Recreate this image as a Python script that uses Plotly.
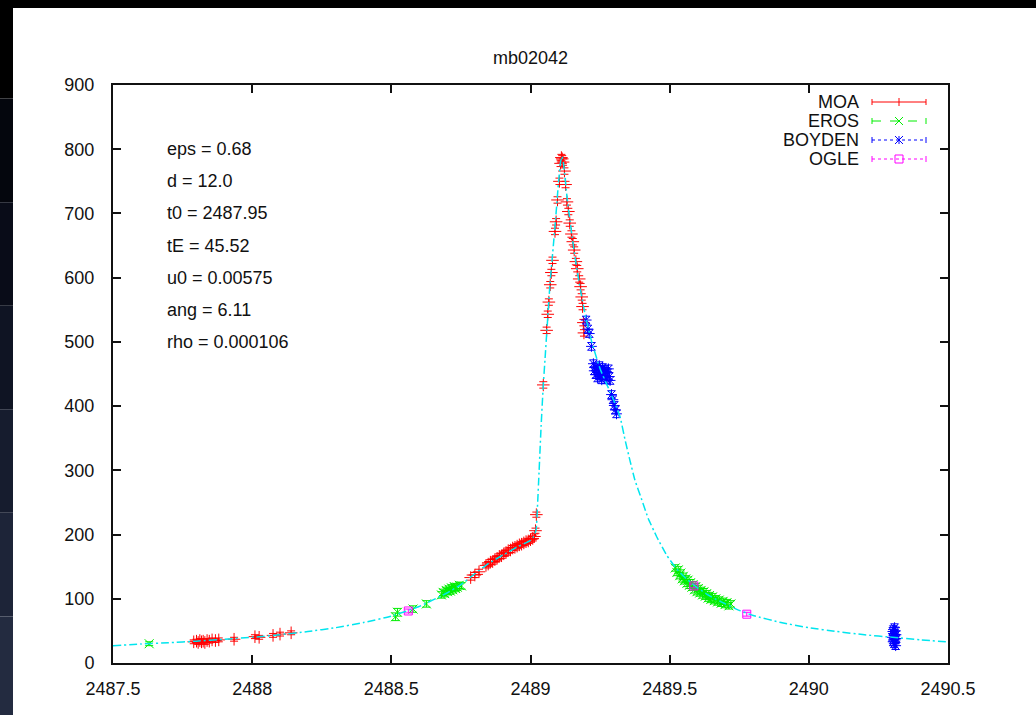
import plotly.graph_objects as go

# ---------------- data ----------------
TITLE = "mb02042"

MOA_T = [2487.790, 2487.800, 2487.806, 2487.812, 2487.818, 2487.824, 2487.830, 2487.838, 2487.846, 2487.856, 2487.868, 2487.880,
         2487.935, 2488.010, 2488.025, 2488.075, 2488.100, 2488.140,
         2488.785, 2488.800, 2488.815,
         2488.840, 2488.848, 2488.856, 2488.864, 2488.872, 2488.880, 2488.888, 2488.896, 2488.904, 2488.912, 2488.920,
         2488.928, 2488.936, 2488.944, 2488.952, 2488.960, 2488.968, 2488.976, 2488.984, 2488.992, 2489.000, 2489.008,
         2489.014, 2489.018, 2489.021,
         2489.046, 2489.058, 2489.062, 2489.066, 2489.071, 2489.075, 2489.079, 2489.088, 2489.092, 2489.097, 2489.104,
         2489.108, 2489.111, 2489.114, 2489.117,
         2489.122, 2489.126, 2489.131, 2489.136, 2489.141, 2489.147, 2489.152, 2489.157, 2489.163, 2489.168, 2489.175,
         2489.180, 2489.184, 2489.187, 2489.190, 2489.192]
MOA_F = [33, 34, 32, 35, 33, 34, 32, 35, 34, 36, 35, 36,
         37, 41, 40, 43, 45, 47,
         133, 137, 142,
         152, 154, 157, 158, 161, 163, 166, 167, 170, 172, 175,
         176, 179, 180, 182, 184, 185, 187, 189, 190, 192, 194,
         197, 206, 231,
         433, 518, 543, 562, 589, 608, 627, 672, 687, 721, 750,
         778, 787, 785, 780,
         766, 745, 718, 703, 685, 668, 656, 643, 625, 614, 598,
         586, 570, 555, 530, 514]
MOA_ERR = [3, 3, 3, 3, 3, 3, 3, 3, 3, 3, 3, 3,
           3, 3, 3, 3, 3, 3,
           4, 4, 4,
           4, 4, 4, 4, 4, 4, 4, 4, 4, 4, 4,
           4, 4, 4, 4, 4, 4, 4, 4, 4, 4, 4,
           4, 4, 4,
           5, 5, 5, 5, 5, 5, 5, 5, 5, 5, 5,
           5, 5, 5, 5,
           5, 5, 5, 5, 5, 5, 5, 5, 5, 5, 5,
           5, 5, 5, 5, 5]

EROS_T = [2487.630, 2488.515, 2488.522, 2488.578, 2488.626,
          2488.680, 2488.686, 2488.692, 2488.697, 2488.702, 2488.707, 2488.712, 2488.716, 2488.721, 2488.726,
          2488.731, 2488.737, 2488.744, 2488.752,
          2489.520, 2489.526, 2489.531, 2489.536, 2489.540, 2489.545, 2489.549, 2489.553, 2489.558, 2489.562,
          2489.566, 2489.571, 2489.575, 2489.580, 2489.584, 2489.589, 2489.594, 2489.598, 2489.603, 2489.608,
          2489.613, 2489.618, 2489.623, 2489.628, 2489.633, 2489.638, 2489.643, 2489.648, 2489.654, 2489.660,
          2489.666, 2489.672, 2489.678, 2489.685, 2489.692, 2489.699, 2489.706, 2489.713, 2489.720]
EROS_F = [30, 72, 79, 84, 92,
          106, 110, 108, 113, 111, 115, 112, 117, 114, 119,
          116, 118, 121, 120,
          148, 141, 145, 136, 140, 131, 135, 128, 131, 124,
          129, 121, 125, 118, 122, 114, 119, 111, 116, 109,
          113, 106, 111, 104, 108, 101, 105, 99, 103, 97,
          100, 95, 98, 93, 96, 91, 94, 89, 92]
EROS_ERR = [3, 6, 6, 5, 5,
            5, 5, 5, 5, 5, 5, 5, 5, 5, 5,
            5, 5, 5, 5,
            5, 5, 5, 5, 5, 5, 5, 5, 5, 5,
            5, 5, 5, 5, 5, 5, 5, 5, 5, 5,
            5, 5, 5, 5, 5, 5, 5, 5, 5, 5,
            5, 5, 5, 5, 5, 5, 5, 5, 5]

BOYDEN_T = [2489.200, 2489.206, 2489.211, 2489.219,
            2489.226, 2489.229, 2489.232, 2489.235, 2489.238, 2489.241, 2489.244, 2489.247, 2489.250, 2489.253,
            2489.256, 2489.259, 2489.262, 2489.265, 2489.268, 2489.271, 2489.274, 2489.277, 2489.280, 2489.283,
            2489.286,
            2489.291, 2489.296, 2489.301, 2489.305, 2489.309,
            2490.300, 2490.302, 2490.303, 2490.304, 2490.305, 2490.306, 2490.307, 2490.308, 2490.309, 2490.310,
            2490.311, 2490.312, 2490.313, 2490.314]
BOYDEN_F = [534, 520, 513, 493,
            466, 455, 461, 449, 458, 444, 452, 463, 447, 456,
            441, 460, 450, 457, 445, 454, 441, 452, 458, 446,
            440,
            418, 410, 401, 394, 388,
            40, 49, 33, 52, 37, 45, 30, 55, 42, 36,
            50, 27, 44, 38]
BOYDEN_ERR = [6, 6, 6, 6,
              6, 6, 6, 6, 6, 6, 6, 6, 6, 6,
              6, 6, 6, 6, 6, 6, 6, 6, 6, 6,
              6,
              6, 6, 6, 6, 6,
              6, 6, 6, 6, 6, 6, 6, 6, 6, 6,
              6, 6, 6, 6]

OGLE_T = [2488.561, 2489.587, 2489.777]
OGLE_F = [81, 120, 76]
OGLE_ERR = [3, 3, 3]

MODEL_T = [2487.5, 2487.6, 2487.7, 2487.8, 2487.9, 2488.0, 2488.1, 2488.2, 2488.3, 2488.4, 2488.5, 2488.6,
           2488.7, 2488.75, 2488.8, 2488.85, 2488.9, 2488.95, 2489.0, 2489.01, 2489.02, 2489.025, 2489.031,
           2489.038, 2489.046, 2489.052, 2489.06, 2489.07, 2489.08, 2489.09, 2489.1, 2489.108, 2489.113,
           2489.118, 2489.125, 2489.132, 2489.14, 2489.15, 2489.16, 2489.17, 2489.18, 2489.19, 2489.2,
           2489.22, 2489.25, 2489.28, 2489.3, 2489.322, 2489.34, 2489.357, 2489.375, 2489.4, 2489.423,
           2489.453, 2489.489, 2489.519, 2489.55, 2489.6, 2489.65, 2489.7, 2489.75, 2489.8, 2489.9, 2490.0,
           2490.1, 2490.2, 2490.3, 2490.4, 2490.5]
MODEL_F = [27, 29.5, 31.5, 34, 37, 40, 44, 49, 55, 63, 73, 88,
           109, 122, 139, 155, 168, 180, 191, 196, 207, 243, 300,
           368, 433, 472, 525, 590, 640, 690, 745, 780, 789,
           780, 752, 722, 695, 662, 632, 605, 580, 556, 535,
           500, 458, 428, 408, 383, 347, 316, 285, 254, 225,
           197, 168, 150, 135, 117, 103, 92, 82, 74, 63, 55,
           49, 44, 40, 36, 33]

SERIES_NAMES = ["MOA", "EROS", "BOYDEN", "OGLE"]
SERIES_COLORS = ["#ff0000", "#00ee00", "#0000ff", "#ff00ff"]
MODEL_COLOR = "#00e5ee"

PARAM_NAMES = ["eps", "d", "t0", "tE", "u0", "ang", "rho"]
PARAM_VALUES = ["0.68", "12.0", "2487.95", "45.52", "0.00575", "6.11", "0.000106"]
PARAM_Y = [800, 750, 700, 650, 600, 550, 500]

X_TICKS = [2487.5, 2488, 2488.5, 2489, 2489.5, 2490, 2490.5]
X_TICK_LABELS = ["2487.5", "2488", "2488.5", "2489", "2489.5", "2490", "2490.5"]
Y_TICKS = [0, 100, 200, 300, 400, 500, 600, 700, 800, 900]
Y_TICK_LABELS = ["0", "100", "200", "300", "400", "500", "600", "700", "800", "900"]

# ---------------- figure ----------------
W, H = 1036, 715
ML, MR, MT, MB = 113, 88, 85, 52
PW, PH = W - ML - MR, H - MT - MB
FONT = "Liberation Sans, Arial, Helvetica, sans-serif"
FS = 18


def px2x(px):
    return (px - ML) / PW


def py2y(py):
    return (H - MB - py) / PH


fig = go.Figure()

series = [
    (MOA_T, MOA_F, MOA_ERR, "cross-thin-open"),
    (EROS_T, EROS_F, EROS_ERR, "x-thin-open"),
    (BOYDEN_T, BOYDEN_F, BOYDEN_ERR, "asterisk-open"),
    (OGLE_T, OGLE_F, OGLE_ERR, "square-open"),
]
for (t, f, e, sym), name, col in zip(series, SERIES_NAMES, SERIES_COLORS):
    fig.add_trace(go.Scatter(
        x=t, y=f, mode="markers", name=name,
        marker=dict(symbol=sym, size=9 if sym != "square-open" else 8,
                    color=col, line=dict(color=col, width=1)),
        error_y=dict(type="data", array=e, visible=True, color=col, thickness=1, width=4),
        showlegend=False,
    ))

fig.add_trace(go.Scatter(
    x=MODEL_T, y=MODEL_F, mode="lines", name="model",
    line=dict(color=MODEL_COLOR, width=1.5, dash="8px,3px,2px,3px", shape="spline", smoothing=0.4),
    showlegend=False,
))

annotations = []
annotations.append(dict(text=TITLE, xref="paper", yref="paper", x=0.5, y=py2y(58),
                        xanchor="center", yanchor="middle", showarrow=False,
                        font=dict(family=FONT, size=FS, color="#111")))
for n, v, yv in zip(PARAM_NAMES, PARAM_VALUES, PARAM_Y):
    annotations.append(dict(text=f"{n} = {v}", xref="paper", yref="y", x=px2x(165), y=yv,
                            xanchor="left", yanchor="middle", showarrow=False,
                            font=dict(family=FONT, size=FS, color="#111")))

# gnuplot-like key
shapes = []
row_py = [102, 121, 140, 159]
dashes = ["solid", "dash", "dot", "dot"]
x0, x1, xm = px2x(872), px2x(926), px2x(899)
cap = 3 / PH
mx, my = 4 / PW, 4 / PH
for name, col, ry, dsh, (_, _, _, sym) in zip(SERIES_NAMES, SERIES_COLORS, row_py, dashes, series):
    yy = py2y(ry)
    annotations.append(dict(text=name, xref="paper", yref="paper", x=px2x(861), y=yy,
                            xanchor="right", yanchor="middle", showarrow=False,
                            font=dict(family=FONT, size=FS, color="#111")))
    ln = dict(color=col, width=1)
    shapes.append(dict(type="line", xref="paper", yref="paper", x0=x0, x1=x1, y0=yy, y1=yy,
                       line=dict(color=col, width=1, dash=dsh)))
    for xe in (x0, x1):
        shapes.append(dict(type="line", xref="paper", yref="paper", x0=xe, x1=xe,
                           y0=yy - cap, y1=yy + cap, line=ln))
    if sym == "cross-thin-open":
        shapes.append(dict(type="line", xref="paper", yref="paper", x0=xm, x1=xm,
                           y0=yy - my, y1=yy + my, line=ln))
    elif sym == "x-thin-open":
        shapes.append(dict(type="line", xref="paper", yref="paper", x0=xm - mx, x1=xm + mx,
                           y0=yy - my, y1=yy + my, line=ln))
        shapes.append(dict(type="line", xref="paper", yref="paper", x0=xm - mx, x1=xm + mx,
                           y0=yy + my, y1=yy - my, line=ln))
    elif sym == "asterisk-open":
        shapes.append(dict(type="line", xref="paper", yref="paper", x0=xm, x1=xm,
                           y0=yy - my, y1=yy + my, line=ln))
        shapes.append(dict(type="line", xref="paper", yref="paper", x0=xm - mx, x1=xm + mx,
                           y0=yy - my, y1=yy + my, line=ln))
        shapes.append(dict(type="line", xref="paper", yref="paper", x0=xm - mx, x1=xm + mx,
                           y0=yy + my, y1=yy - my, line=ln))
    else:
        shapes.append(dict(type="rect", xref="paper", yref="paper", x0=xm - mx, x1=xm + mx,
                           y0=yy - my, y1=yy + my, line=ln, fillcolor="rgba(0,0,0,0)"))

# dark surround (slide background) at top and left
shapes.append(dict(type="rect", xref="paper", yref="paper", layer="below",
                   x0=px2x(-5), x1=px2x(W + 5), y0=py2y(8), y1=py2y(-5),
                   fillcolor="#000000", line=dict(width=0)))
bands = ["#000000", "#04060d", "#090c18", "#0f1423", "#161c2e", "#1d2438", "#232b40"]
nb = len(bands)
for i, c in enumerate(bands):
    shapes.append(dict(type="rect", xref="paper", yref="paper", layer="below",
                       x0=px2x(-5), x1=px2x(13), y0=py2y(-5 + (H + 10) * (i + 1) / nb),
                       y1=py2y(-5 + (H + 10) * i / nb), fillcolor=c, line=dict(width=0)))

axis_common = dict(showgrid=False, zeroline=False, showline=True, linecolor="#111", linewidth=2,
                   ticks="inside", ticklen=8, tickwidth=1.5, tickcolor="#111", mirror="allticks",
                   tickfont=dict(family=FONT, size=FS, color="#111"))

fig.update_layout(
    width=W, height=H,
    margin=dict(l=ML, r=MR, t=MT, b=MB, pad=0),
    paper_bgcolor="#ffffff", plot_bgcolor="#ffffff",
    xaxis=dict(range=[2487.5, 2490.5], tickvals=X_TICKS, ticktext=X_TICK_LABELS,
               ticklabelstandoff=8, **axis_common),
    yaxis=dict(range=[0, 900], tickvals=Y_TICKS, ticktext=Y_TICK_LABELS,
               ticklabelstandoff=13, **axis_common),
    annotations=annotations,
    shapes=shapes,
    showlegend=False,
)

fig.write_html("out.html", config={"displayModeBar": False},
               post_script="document.body.style.margin='0';document.body.style.background='#000';")
